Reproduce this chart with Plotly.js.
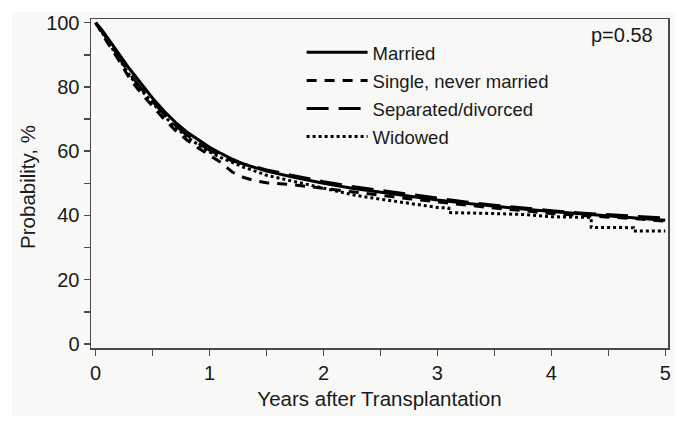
<!DOCTYPE html>
<html>
<head>
<meta charset="utf-8">
<script src="https://cdn.plot.ly/plotly-3.0.1.min.js"></script>
<style>
  html, body { margin: 0; padding: 0; background: #ffffff; width: 687px; height: 428px; overflow: hidden; }
  #chart { position: absolute; left: 12px; top: 12px; width: 663px; height: 404px; }
</style>
</head>
<body>
<div id="chart"></div>
<script>
// ---- Data ----
const seriesNames = ["Married", "Single, never married", "Separated/divorced", "Widowed"];

const marriedYears = [0, 0.05, 0.1, 0.2, 0.3, 0.4, 0.5, 0.6, 0.7, 0.8, 0.9, 1.0, 1.1, 1.2, 1.3, 1.4, 1.5, 1.75, 2.0, 2.25, 2.5, 2.75, 3.0, 3.25, 3.5, 3.75, 4.0, 4.25, 4.5, 4.75, 5.0];
const marriedProb  = [100, 98, 95.5, 90.5, 85.5, 81, 76.5, 72.5, 69, 66, 63.5, 61.2, 59.3, 57.5, 56, 54.8, 53.8, 51.8, 50, 48.5, 47.2, 46, 44.8, 43.8, 42.8, 42, 41.2, 40.5, 39.8, 39, 38.5];

const singleYears = [0, 0.05, 0.1, 0.2, 0.3, 0.4, 0.5, 0.6, 0.7, 0.8, 0.9, 1.0, 1.1, 1.2, 1.3, 1.4, 1.5, 1.75, 2.0, 2.25, 2.5, 2.75, 3.0, 3.25, 3.5, 3.75, 4.0, 4.25, 4.5, 4.75, 5.0];
const singleProb  = [100, 97, 94, 88.5, 82.5, 78, 74, 70, 66.5, 63.5, 61, 58.8, 56.5, 53.5, 51.8, 50.8, 50.2, 49.5, 48.5, 47.3, 46.3, 45.2, 44.2, 43.2, 42.3, 41.5, 40.6, 40, 39.5, 39, 38.2];

const separatedYears = [0, 0.1, 0.2, 0.3, 0.4, 0.5, 0.6, 0.7, 0.8, 0.9, 1.0, 1.1, 1.2, 1.3, 1.4, 1.5, 1.75, 2.0, 2.25, 2.5, 2.75, 3.0, 3.25, 3.5, 3.75, 4.0, 4.25, 4.5, 4.75, 5.0];
const separatedProb  = [100, 95, 89.5, 84, 79.5, 75.5, 71.5, 68, 65, 62.5, 60.3, 58.5, 57, 56, 55, 54.2, 52.3, 50.5, 49, 47.8, 46.5, 45.2, 44.2, 43.2, 42.3, 41.5, 40.8, 40.2, 39.6, 39.2];

const widowedYears = [0, 0.1, 0.2, 0.3, 0.4, 0.5, 0.6, 0.7, 0.8, 0.9, 1.0, 1.1, 1.2, 1.3, 1.4, 1.5, 1.75, 2.0, 2.25, 2.4, 2.6, 2.8, 3.0, 3.1, 3.1, 3.5, 3.75, 4.0, 4.35, 4.35, 4.72, 4.72, 5.0];
const widowedProb  = [100, 94.5, 89, 83.5, 79, 75, 71, 67.5, 64.5, 62, 59.8, 58, 56.5, 55, 53.8, 52.5, 50.5, 48.5, 46.5, 45.6, 44.5, 43.5, 42.5, 42.3, 40.9, 40.6, 40.3, 39.6, 39.4, 36.3, 36.2, 35.2, 35.2];

const xTickVals = [0, 1, 2, 3, 4, 5];
const yTickVals = [0, 20, 40, 60, 80, 100];
const xTitle = "Years after Transplantation";
const yTitle = "Probability, %";
const pValueText = "p=0.58";

// ---- Styles ----
const ink = "#1a1a1a";
const axisColor = "#4a4a4a";
const fontFam = "'Liberation Sans', Arial, Helvetica, sans-serif";

const traces = [
  { x: marriedYears, y: marriedProb, name: seriesNames[0], dash: "solid" },
  { x: singleYears, y: singleProb, name: seriesNames[1], dash: "10px,8px" },
  { x: separatedYears, y: separatedProb, name: seriesNames[2], dash: "22px,10px" },
  { x: widowedYears, y: widowedProb, name: seriesNames[3], dash: "3px,3px" }
].map((s, i) => ({
  type: "scatter",
  mode: "lines",
  x: s.x,
  y: s.y,
  name: s.name,
  legendgroup: "g" + i,
  line: { color: "#000000", width: 3, dash: s.dash },
  hoverinfo: "skip"
}));

const layout = {
  width: 663,
  height: 404,
  margin: { l: 79, r: 7, t: 7, b: 68, pad: 0 },
  paper_bgcolor: "#f8f8f6",
  plot_bgcolor: "#f8f8f6",
  font: { family: fontFam, color: ink, size: 20 },
  showlegend: true,
  legend: {
    x: 0.365, xanchor: "left",
    y: 0.955, yanchor: "top",
    bgcolor: "rgba(0,0,0,0)",
    borderwidth: 0,
    font: { family: fontFam, size: 18.5, color: ink },
    itemwidth: 61,
    traceorder: "grouped",
    tracegroupgap: 1
  },
  xaxis: {
    range: [-0.041, 5.024],
    tickvals: xTickVals,
    ticktext: xTickVals.map(String),
    ticks: "outside",
    ticklen: 6,
    tickwidth: 1.5,
    tickcolor: axisColor,
    minor: { dtick: 0.5, tick0: 0, ticks: "outside", ticklen: 6, tickwidth: 1.5, tickcolor: axisColor, showgrid: false },
    showline: true,
    linecolor: axisColor,
    linewidth: 1.5,
    mirror: true,
    showgrid: false,
    zeroline: false,
    ticklabeloverflow: "allow",
    tickfont: { size: 20, color: ink },
    title: { text: xTitle, font: { size: 20.5, color: ink }, standoff: 9 }
  },
  yaxis: {
    range: [-1.25, 101.15],
    tickvals: yTickVals,
    ticktext: yTickVals.map(String),
    ticks: "outside",
    ticklen: 6,
    tickwidth: 1.5,
    tickcolor: axisColor,
    minor: { dtick: 10, tick0: 0, ticks: "outside", ticklen: 6, tickwidth: 1.5, tickcolor: axisColor, showgrid: false },
    showline: true,
    linecolor: axisColor,
    linewidth: 1.5,
    mirror: true,
    showgrid: false,
    zeroline: false,
    ticklabeloverflow: "allow",
    tickfont: { size: 20, color: ink }
  },
  annotations: [
    {
      text: yTitle,
      xref: "paper", yref: "paper",
      x: -0.109, xanchor: "center",
      y: 0.49, yanchor: "middle",
      textangle: -90,
      showarrow: false,
      font: { family: fontFam, size: 20.5, color: ink }
    },
    {
      text: pValueText,
      xref: "paper", yref: "paper",
      x: 0.978, xanchor: "right",
      y: 0.951, yanchor: "middle",
      showarrow: false,
      font: { family: fontFam, size: 20, color: ink }
    }
  ]
};

Plotly.newPlot("chart", traces, layout, { displayModeBar: false, staticPlot: true });
</script>
</body>
</html>
